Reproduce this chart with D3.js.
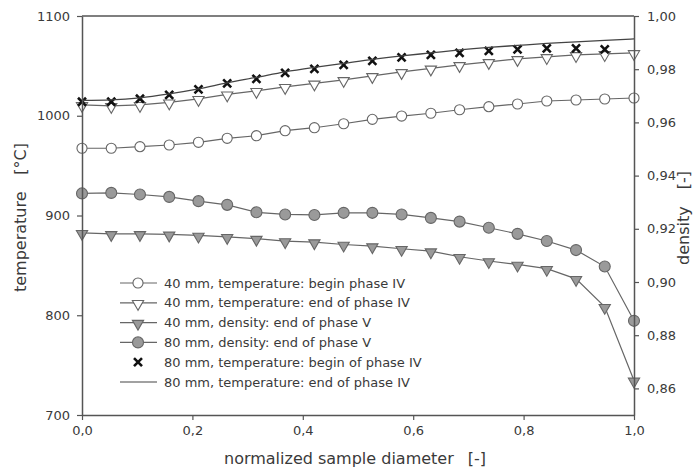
<!DOCTYPE html>
<html>
<head>
<meta charset="utf-8">
<script src="https://cdn.jsdelivr.net/npm/d3@7"></script>
<style>
  html, body { margin: 0; padding: 0; background: #fff; }
  svg { display: block; font-family: "DejaVu Sans", sans-serif; }
</style>
</head>
<body>
<svg id="chart" width="695" height="470"></svg>
<script>
// normalized sample diameter (20 measuring points)
const diameter = [0.000, 0.053, 0.105, 0.158, 0.211, 0.263, 0.316, 0.368, 0.421, 0.474,
                  0.526, 0.579, 0.632, 0.684, 0.737, 0.789, 0.842, 0.895, 0.947, 1.000];

const temp_40_begin_IV = [967.4, 967.4, 969, 970.7, 973.4, 977.4, 980, 985, 988, 992,
                          996.4, 999.7, 1002.5, 1006, 1009.1, 1011.8, 1014.8, 1015.8, 1016.8, 1017.8];
const temp_40_end_IV = [1011, 1010, 1011, 1013.5, 1017, 1021.5, 1025, 1029, 1032.5, 1036,
                        1040, 1044, 1047.5, 1051, 1054, 1057, 1059, 1061, 1062, 1063];
const dens_40_end_V = [0.9185, 0.9181, 0.9181, 0.9179, 0.9175, 0.9170, 0.9163, 0.9154, 0.9150, 0.9141,
                       0.9135, 0.9125, 0.9116, 0.9095, 0.9079, 0.9066, 0.9050, 0.9012, 0.8907, 0.8630];
const dens_80_end_V = [0.9333, 0.9335, 0.9329, 0.9320, 0.9304, 0.9290, 0.9262, 0.9254, 0.9252, 0.9260,
                       0.9260, 0.9254, 0.9241, 0.9227, 0.9204, 0.9181, 0.9154, 0.9120, 0.9058, 0.8854];
// no marker at 1.0 for this one
const temp_80_begin_IV = [1014, 1014, 1017, 1021, 1026.5, 1032.5, 1037, 1043, 1047, 1051,
                          1055, 1058.5, 1061, 1063, 1065, 1066.5, 1067.5, 1067.5, 1066.5];
const temp_80_end_IV = [1015.5, 1016, 1018, 1022, 1027, 1033, 1038.5, 1044, 1048.5, 1052.5,
                        1056.5, 1060, 1063, 1066, 1068.5, 1070.5, 1072.5, 1074, 1075.5, 1077];

const x_ticks = [0, 0.2, 0.4, 0.6, 0.8, 1.0];
const temp_ticks = [700, 800, 900, 1000, 1100];
const dens_ticks = [0.86, 0.88, 0.90, 0.92, 0.94, 0.96, 0.98, 1.00];

const legend_labels = [
    "40 mm, temperature: begin phase IV",
    "40 mm, temperature: end of phase IV",
    "40 mm, density: end of phase V",
    "80 mm, density: end of phase V",
    "80 mm, temperature: begin of phase IV",
    "80 mm, temperature: end of phase IV"
];

const margin = {left: 82, right: 634, top: 16, bottom: 415};
const line_col = "#666";
const axis_col = "#555";
const text_col = "#3a3a3a";

const x = d3.scaleLinear([0, 1], [margin.left, margin.right]);
const y_temp = d3.scaleLinear([700, 1100], [margin.bottom, margin.top]);
const y_dens = d3.scaleLinear([0.85, 1.00], [margin.bottom, margin.top]);

const comma = f => v => d3.format(f)(v).replace(".", ",");

function marker_path(kind) {
    if (kind === "circle") return d3.symbol(d3.symbolCircle, 80)();
    if (kind === "circle_big") return d3.symbol(d3.symbolCircle, 95)();
    if (kind === "tri") return d3.symbol(d3.symbolTriangle, 55)();
    if (kind === "cross") return "M-4,-4L4,4M-4,4L4,-4";
    return null;
}

function marker_style(sel, s) {
    sel.attr("d", marker_path(s.marker))
        .attr("fill", s.marker === "cross" ? "none" : s.fill)
        .attr("stroke", s.marker === "cross" ? "#111" : line_col)
        .attr("stroke-width", s.marker === "cross" ? 2.6 : 1.1);
}

function marker_transform(s, px, py) {
    return s.marker === "tri"
        ? `translate(${px},${py + 1}) rotate(180)`
        : `translate(${px},${py})`;
}

const series = [
    {label: legend_labels[0], values: temp_40_begin_IV, y: y_temp, marker: "circle", fill: "#fff", line: true},
    {label: legend_labels[1], values: temp_40_end_IV, y: y_temp, marker: "tri", fill: "#fff", line: true},
    {label: legend_labels[2], values: dens_40_end_V, y: y_dens, marker: "tri", fill: "#9a9a9a", line: true},
    {label: legend_labels[3], values: dens_80_end_V, y: y_dens, marker: "circle_big", fill: "#9a9a9a", line: true},
    {label: legend_labels[4], values: temp_80_begin_IV, y: y_temp, marker: "cross", fill: "none", line: false},
    {label: legend_labels[5], values: temp_80_end_IV, y: y_temp, marker: null, fill: "none", line: true, smooth: true}
];

function draw_axes(svg) {
    const g_left = svg.append("g")
        .attr("transform", `translate(${margin.left},0)`)
        .call(d3.axisLeft(y_temp).tickValues(temp_ticks).tickFormat(d3.format("d")).tickSize(5).tickPadding(7).tickSizeOuter(0));
    const g_right = svg.append("g")
        .attr("transform", `translate(${margin.right},0)`)
        .call(d3.axisRight(y_dens).tickValues(dens_ticks).tickFormat(comma(".2f")).tickSize(5).tickPadding(8).tickSizeOuter(0));
    const g_bottom = svg.append("g")
        .attr("transform", `translate(0,${margin.bottom})`)
        .call(d3.axisBottom(x).tickValues(x_ticks).tickFormat(comma(".1f")).tickSize(5).tickPadding(6).tickSizeOuter(0));

    [g_left, g_right, g_bottom].forEach(g => {
        g.select(".domain").attr("stroke", axis_col).attr("stroke-width", 1.5);
        g.selectAll(".tick line").attr("stroke", axis_col).attr("stroke-width", 1.2);
        g.selectAll(".tick text").attr("fill", text_col).attr("font-size", 13)
            .attr("font-family", "DejaVu Sans, sans-serif");
    });

    // top frame line
    svg.append("line")
        .attr("x1", margin.left).attr("x2", margin.right)
        .attr("y1", margin.top).attr("y2", margin.top)
        .attr("stroke", axis_col).attr("stroke-width", 1.5);
}

function draw_titles(svg) {
    const title = (tx, ty, rot, anchor, txt) => svg.append("text")
        .attr("transform", `translate(${tx},${ty}) rotate(${rot})`)
        .attr("text-anchor", anchor)
        .attr("font-size", 16)
        .attr("fill", text_col)
        .text(txt);

    title(355, 464, 0, "middle", "")
        .append("tspan").text("normalized sample diameter")
        .append("tspan").attr("dx", 14).text("[-]");
    title(26, 292, -90, "start", "temperature");
    title(26, 143, -90, "end", "[°C]");
    title(689, 265, -90, "start", "density");
    title(689, 171, -90, "end", "[-]");
}

function draw_series(svg) {
    series.forEach(s => {
        const pts = s.values.map((v, i) => [x(diameter[i]), s.y(v)]);
        if (s.line) {
            svg.append("path")
                .attr("d", d3.line().curve(s.smooth ? d3.curveMonotoneX : d3.curveLinear)(pts))
                .attr("fill", "none")
                .attr("stroke", s.smooth ? "#444" : line_col)
                .attr("stroke-width", s.smooth ? 1.3 : 1.2);
        }
        if (s.marker) {
            svg.append("g").selectAll("path")
                .data(pts)
                .enter().append("path")
                .attr("transform", d => marker_transform(s, d[0], d[1]))
                .call(marker_style, s);
        }
    });
}

function draw_legend(svg) {
    const row_y = d3.scaleLinear([0, 5], [283, 382]);
    series.forEach((s, i) => {
        const cy = row_y(i);
        const g = svg.append("g");
        if (s.line) {
            g.append("line")
                .attr("x1", 120).attr("x2", 157)
                .attr("y1", cy).attr("y2", cy)
                .attr("stroke", s.smooth ? "#444" : line_col)
                .attr("stroke-width", 1.2);
        }
        if (s.marker) {
            g.append("path")
                .attr("transform", marker_transform(s, 138, cy))
                .call(marker_style, s);
        }
        g.append("text")
            .attr("x", 164).attr("y", cy)
            .attr("dy", "0.35em")
            .attr("font-size", 13)
            .attr("fill", text_col)
            .text(s.label);
    });
}

const svg = d3.select("#chart");
draw_series(svg);
draw_axes(svg);
draw_titles(svg);
draw_legend(svg);
</script>
</body>
</html>
